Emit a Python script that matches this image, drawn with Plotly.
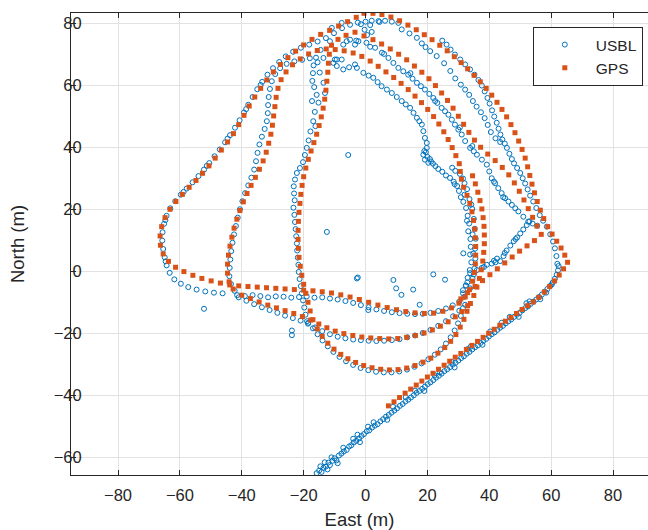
import plotly.graph_objects as go

# ---------------- GPS track (East, North) in metres ----------------
gps_diag = [(7.4,-43.3),(9.2,-42.0),(11.0,-40.6),(12.8,-39.2),(14.6,-37.9),(16.4,-36.6),(18.2,-35.3),(20.0,-34.0),
            (21.8,-32.8),(23.6,-31.5),(25.4,-30.2),(27.2,-28.9),(29.0,-27.6),(30.8,-26.4),(32.6,-25.1),(34.4,-23.8),
            (36.2,-22.5),(38.0,-21.2),(39.8,-19.9),(41.6,-18.6),(43.4,-17.3),(45.2,-16.0),(47.0,-14.8),(48.8,-13.5),
            (50.6,-12.2),(52.4,-11.0),(54.2,-9.8),(56.0,-8.3),(57.8,-6.6),(59.5,-4.8),(61.1,-3.0),(62.6,-1.1),
            (64.0,0.9),(65.3,3.0)]
gps_arc_a = [(64.4,5.3),(63.2,7.6),(61.8,9.8),(60.3,12.1),(58.9,14.5),(57.6,17.1),(56.5,19.8),(55.5,22.6),
             (54.6,25.4),(53.8,28.2),(53.1,31.0),(52.4,33.8),(51.6,36.6),(50.6,39.4),(49.5,42.1),(48.3,44.8),
             (47.0,47.4),(45.6,49.9),(44.1,52.3),(42.5,54.6),(40.8,56.9),(39.0,59.1),(37.1,61.2),(35.1,63.3),
             (33.0,65.4),(30.9,67.4),(28.7,69.3),(26.4,71.2),(24.0,73.0),(21.5,74.8),(19.0,76.4),(16.4,78.0),
             (13.7,79.5),(11.0,80.9),(8.2,82.1),(5.3,82.9),(2.4,83.3),(-0.5,83.3)]
gps_left_outer = [(-3.0,82.0),(-5.8,80.6),(-8.7,79.2),(-11.6,77.8),(-14.5,76.5),(-17.3,74.9),(-20.0,73.1),
                  (-22.6,71.1),(-25.1,69.0),(-27.5,66.8),(-29.8,64.4),(-31.9,61.8),(-33.9,59.1),(-35.8,56.3),
                  (-37.6,53.4),(-39.3,50.4),(-41.0,47.4),(-42.7,44.5),(-44.6,41.8),(-46.6,39.2),(-48.6,36.6),
                  (-50.6,34.1),(-52.7,31.7),(-54.8,29.4),(-57.0,27.2),(-59.2,24.9),(-61.3,22.6),(-63.2,20.1),
                  (-64.8,17.4),(-65.9,14.5),(-66.4,11.5),(-66.3,8.5),(-65.4,5.7),(-63.7,3.3),(-61.4,1.4),
                  (-58.7,0.0),(-55.8,-1.2),(-52.9,-2.2),(-49.9,-3.0),(-46.9,-3.7),(-43.9,-4.3)]
gps_l1 = [(-41.0,-4.6),(-38.0,-4.8),(-35.0,-5.0),(-32.0,-5.2),(-29.0,-5.4),(-26.0,-5.6),(-23.0,-5.8),(-20.0,-6.0),
          (-17.0,-6.2),(-14.0,-6.5),(-11.0,-6.9),(-8.0,-7.5),(-5.0,-8.2),(-2.0,-9.0),(1.0,-9.9),(4.0,-10.8),
          (7.0,-11.6),(10.0,-12.3),(13.0,-12.9),(16.0,-13.3),(19.0,-13.5),(22.0,-13.4),(25.0,-12.8),(27.8,-11.7),
          (30.2,-10.2)]
gps_r1 = [(32.2,-8.2),(33.6,-5.8),(34.6,-3.1),(35.2,-0.3),(35.5,2.5),(35.6,5.3),(35.6,8.1),(35.5,10.9),
          (35.3,13.7),(34.9,16.5),(34.4,19.3),(33.7,22.0),(32.8,24.6),(31.7,27.2),(31.0,29.8),(30.6,32.3)]
gps_arc_c = [(30.3,34.8),(29.2,37.4),(28.0,40.0),(26.7,42.6),(25.3,45.1),(23.7,47.6),(22.0,50.0),(20.1,52.3),
             (18.1,54.5),(16.0,56.6),(13.8,58.7),(11.5,60.7),(9.1,62.6),(6.6,64.4),(4.1,66.2),(1.5,67.9),
             (-1.2,69.4),(-4.0,70.5),(-6.9,71.2),(-9.8,71.6),(-12.7,71.8)]
gps_left_inner = [(-15.6,71.3),(-18.4,70.2),(-21.1,68.6),(-23.6,66.7),(-25.7,64.4),(-27.3,61.9),(-28.3,59.1),
                  (-28.9,56.2),(-29.3,53.2),(-29.7,50.2),(-30.1,47.2),(-30.6,44.3),(-31.3,41.4),(-32.1,38.5),
                  (-33.1,35.7),(-34.3,33.0),(-35.6,30.4),(-37.0,27.8),(-38.3,25.2),(-39.5,22.5),(-40.6,19.7),
                  (-41.6,16.9),(-42.5,14.0),(-43.2,11.1),(-43.8,8.2),(-44.3,5.3),(-44.6,2.4),(-44.6,-0.5),
                  (-44.1,-3.3),(-42.8,-5.6)]
gps_l2 = [(-40.0,-7.6),(-37.2,-8.7),(-34.4,-9.8),(-31.6,-10.8),(-28.8,-11.7),(-26.0,-12.6),(-23.2,-13.5),
          (-20.4,-14.5),(-17.7,-15.6),(-15.1,-16.9),(-12.5,-18.1),(-9.8,-19.2),(-7.0,-20.0),(-4.1,-20.6),
          (-1.2,-21.1),(1.7,-21.4),(4.6,-21.6),(7.5,-21.7),(10.4,-21.6),(13.3,-21.2),(16.1,-20.6),(18.9,-19.8),
          (21.6,-18.8),(24.2,-17.6),(26.7,-16.2),(29.0,-14.6),(31.1,-12.9),(33.0,-11.0)]
gps_mid = [(-6.3,76.2),(-8.9,74.9),(-11.0,73.0),(-11.7,70.1),(-12.0,67.2),(-12.2,64.3),(-12.5,61.4),(-12.8,58.5),
           (-13.2,55.6),(-13.7,52.7),(-14.3,49.9),(-15.0,47.1),(-15.8,44.3),(-16.7,41.6),(-17.6,38.9),(-18.5,36.2),
           (-19.3,33.4),(-20.0,30.6),(-20.5,27.8),(-20.9,24.9),(-21.2,22.0),(-21.5,19.1),(-21.7,16.2),(-21.8,13.3),
           (-21.8,10.4),(-21.7,7.5),(-21.5,4.6),(-21.1,1.7),(-20.6,-1.2),(-20.0,-4.1),(-19.3,-7.0),(-18.6,-9.9),
           (-17.9,-12.7),(-17.0,-15.5)]
gps_bottom_u = [(-15.6,-18.5),(-14.0,-20.9),(-12.2,-23.1),(-10.2,-25.0),(-8.0,-26.7),(-5.7,-28.1),(-3.2,-29.3),
                (-0.6,-30.3),(2.1,-31.0),(4.9,-31.5),(7.7,-31.7),(10.5,-31.6),(13.3,-31.1),(16.0,-30.3),
                (18.6,-29.2),(21.1,-27.9),(23.4,-26.3),(25.6,-24.5),(27.5,-22.5),(29.2,-20.3),(30.6,-17.9),
                (31.8,-15.4),(32.8,-12.8)]
gps_r2 = [(33.9,-10.3),(35.0,-7.7),(36.0,-5.0),(36.8,-2.2),(37.4,0.6),(37.9,3.4),(38.2,6.2),(38.4,9.0),
          (38.4,11.8),(38.3,14.6),(38.0,17.4),(37.6,20.2),(37.0,22.9),(36.3,25.6),(35.5,28.3),(34.6,30.9)]
gps_arc_b = [(-3.4,77.2),(-0.5,76.0),(2.4,74.8),(5.2,73.4),(8.0,71.8),(10.7,70.1),(13.3,68.3),(15.8,66.3),
             (18.2,64.3),(20.5,62.2),(22.6,60.0),(24.6,57.6),(26.5,55.2),(28.3,52.7),(30.0,50.1),(31.7,47.5),
             (33.4,44.9),(35.2,42.4),(37.2,40.1),(39.5,37.9),(41.9,35.8),(44.2,33.6),(46.3,31.2),(48.1,28.6),
             (49.7,25.9),(51.2,23.1),(52.6,20.3),(54.0,17.5),(55.4,14.7),(56.8,12.0)]
gps_link = [(54.6,10.0),(52.2,8.3),(49.8,6.6),(47.4,4.7),(45.0,2.8),(42.6,0.9),(40.2,-1.0),(37.8,-2.9),
            (35.4,-4.8),(33.0,-6.8),(30.8,-8.8)]

# ---------------- USBL fixes (East, North) in metres ----------------
usbl_diag = [(-15.8,-65.0),(-15.0,-64.2),(-14.2,-64.6),(-13.6,-63.3),(-12.8,-62.9),(-12.0,-61.6),(-11.5,-62.4),
             (-10.7,-61.0),(-10.0,-60.2),(-9.4,-60.9),(-8.6,-59.3),(-7.8,-58.7),(-7.0,-58.0),(-6.1,-57.5),
             (-5.3,-56.4),(-4.6,-56.0),(-3.8,-55.1),(-3.0,-54.6),(-2.1,-53.8),(-1.3,-53.0),(-0.5,-52.4),
             (0.4,-51.5),(1.2,-51.2),(2.1,-50.3),(3.0,-49.7),(3.9,-49.2),(4.8,-48.3),(5.7,-47.6),(6.6,-46.8),
             (7.5,-46.2),(8.4,-45.5),(9.3,-44.8),(10.2,-44.1),(11.1,-43.3),(12.0,-42.7),(12.9,-41.9),(13.8,-41.3),
             (14.7,-40.6),(15.6,-39.9),(16.5,-39.1),(17.4,-38.5),(18.3,-37.8),(19.2,-37.1),(20.1,-36.3),
             (21.0,-35.7),(21.9,-35.0),(22.8,-34.2),(23.7,-33.6),(24.6,-32.9),(25.5,-32.1),(26.4,-31.5),
             (27.3,-30.8),(28.2,-30.0),(29.1,-29.4),(30.0,-28.7),(30.9,-27.9),(31.8,-27.3),(32.7,-26.5),
             (33.6,-25.9),(34.5,-25.1),(35.4,-24.4),(36.3,-23.8),(37.2,-23.0),(38.1,-22.3),(39.0,-21.7),
             (39.9,-20.9),(40.8,-20.2),(41.7,-19.6),(42.6,-18.8),(43.5,-18.1),(44.4,-17.5),(45.3,-16.7),
             (46.2,-16.0),(47.1,-15.4),(48.0,-14.6),(48.9,-13.9),(49.8,-13.3),(50.7,-12.5),(51.6,-11.8),
             (52.5,-11.2),(53.4,-10.4),(54.3,-9.7),(55.2,-9.0),(56.1,-8.2),(57.0,-7.4),(57.9,-6.5),(58.8,-5.6),
             (59.7,-4.6),(60.5,-3.5),(61.2,-2.3),(61.8,-1.0),(62.2,0.4),(62.4,1.8),
             (-12.3,-63.8),(-14.6,-62.8),(-9.0,-61.8),(-11.0,-59.9),(-4.0,-53.9),(-1.8,-55.0),(0.8,-50.0),
             (7.0,-47.8),(13.0,-40.5),(19.0,-38.5),(24.0,-32.5),(28.8,-30.9),(33.0,-25.0),(37.8,-23.6),
             (44.0,-16.5),(49.5,-14.6),(52.0,-10.2),(56.5,-8.9),(58.4,-6.8),(60.2,-4.2),
             (-13.2,-61.5),(-7.2,-56.8),(-2.6,-52.6),(2.6,-48.6),(8.9,-43.6),(16.0,-38.4),(22.3,-33.4),
             (27.8,-29.1),(34.0,-24.2),(40.3,-19.3),(46.6,-14.6),(53.0,-9.6)]
usbl_arc_outer = [(62.0,2.5),(61.7,5.0),(61.2,7.5),(60.6,9.7),(59.7,12.0),(58.6,14.5),(57.4,16.4),(56.3,18.2),
                  (55.2,20.5),(54.2,22.6),(53.2,24.5),(52.4,26.5),(51.6,28.4),(50.8,30.1),(50.0,31.8),(49.0,33.4),
                  (48.0,34.9),(47.3,36.3),(46.5,38.0),(45.7,39.9),(45.0,41.3),(44.2,42.6),(43.6,44.2),(43.0,46.1),
                  (42.4,48.0),(41.6,50.0),(40.9,52.0),(40.1,54.2),(39.4,56.0),(38.5,58.1),(37.6,60.0),(36.5,61.8),
                  (35.2,63.5),(33.8,65.2),(32.2,66.8),(30.6,68.4),(28.9,70.0),(27.5,71.6),(26.2,73.2),(24.8,74.5)]
usbl_arc_top = [(23.0,69.5),(20.9,71.1),(19.4,72.4),(18.2,73.6),(16.6,75.4),(14.2,76.8),(11.7,78.1),(10.6,80.2),
                (8.5,80.6),(6.3,80.9),(4.2,80.8),(2.0,80.9),(0.0,80.6),(-1.5,79.8),(25.4,67.2),(27.4,64.7),
                (29.0,62.3),(30.8,60.3),(32.2,58.7),(33.5,57.0),(34.7,55.0),(35.9,53.2),(37.3,51.4),(38.5,49.5),
                (39.5,47.3),(40.5,45.0),(42.0,43.0),(43.5,41.8)]
usbl_left_outer = [(-2.5,80.3),(-5.0,79.6),(-7.6,78.5),(-10.2,76.9),(-12.8,75.3),(-15.5,74.2),(-18.2,73.2),
                   (-20.9,72.2),(-23.4,70.9),(-25.8,69.4),(-27.9,67.6),(-29.9,65.6),(-31.7,63.5),(-33.4,61.2),
                   (-35.0,58.8),(-36.5,56.3),(-37.9,53.8),(-39.3,51.3),(-40.7,48.8),(-42.2,46.4),(-43.8,44.0),
                   (-45.4,41.7),(-47.1,39.4),(-48.8,37.2),(-50.5,35.0),(-52.2,32.9),(-54.0,30.8),(-55.9,28.8),
                   (-57.8,26.8),(-59.7,24.8),(-61.5,22.7),(-63.1,20.4),(-64.3,18.0),(-65.1,15.4),(-65.6,12.7),
                   (-65.7,10.0),(-65.4,7.3),(-64.9,4.6),(-64.3,2.0),(-63.3,-0.4),(-61.8,-2.5),(-59.7,-3.9),
                   (-57.3,-5.0),(-54.6,-5.8),(-51.8,-6.4),(-49.0,-6.8),(-46.2,-7.0),
                   (-33.9,60.2),(-38.6,52.4),(-44.6,42.9),(-51.3,34.1),(-58.8,25.7),(-64.7,16.6),(-64.6,3.3)]
usbl_left_inner = [(-18.0,68.8),(-20.5,68.3),(-23.0,67.8),(-25.5,67.0),(-27.6,65.6),(-29.2,63.7),(-30.3,61.4),
                   (-30.9,58.9),(-31.3,56.3),(-31.5,53.7),(-31.6,51.1),(-31.9,48.5),(-32.6,46.0),(-33.5,43.5),
                   (-34.3,41.0),(-34.9,38.3),(-35.4,35.6),(-36.0,32.9),(-36.9,30.3),(-37.9,27.8),(-38.9,25.3),
                   (-39.8,22.7),(-40.6,20.1),(-41.3,17.4),(-41.9,14.7),(-42.5,12.0),(-43.0,9.3),(-43.4,6.6),
                   (-43.7,3.9),(-43.9,1.2),(-44.0,-1.5),(-43.5,-4.0),(-42.3,-6.2)]
usbl_l1 = [(-41.5,-7.6),(-39.0,-7.9),(-36.5,-7.6),(-34.0,-7.9),(-31.5,-8.3),(-29.0,-8.0),(-26.5,-8.1),
           (-24.0,-8.4),(-21.5,-8.2),(-19.0,-8.0),(-16.5,-8.4),(-14.0,-8.3),(-11.5,-8.7),(-9.0,-9.0),(-6.5,-9.5),
           (-4.0,-10.1),(-1.5,-10.8),(1.0,-11.5),(3.5,-12.2),(6.0,-12.7),(8.5,-13.1),(11.0,-13.4),(13.5,-13.6),
           (16.0,-13.7),(18.5,-13.6),(21.0,-13.3),(23.5,-12.7),(26.0,-11.9),(28.2,-10.9),(30.3,-9.7),(32.0,-8.1)]
usbl_l2 = [(-41.0,-8.3),(-38.5,-9.4),(-36.0,-10.5),(-33.5,-11.5),(-31.0,-12.4),(-28.5,-13.3),(-26.0,-14.2),
           (-23.5,-15.0),(-21.0,-15.8),(-18.6,-16.8),(-16.3,-18.0),(-14.0,-19.2),(-11.5,-20.2),(-9.0,-21.0),
           (-6.5,-21.5),(-4.0,-21.9),(-1.5,-22.1),(1.0,-22.3),(3.5,-22.4),(6.0,-22.3),(8.5,-22.1),(11.0,-21.8),
           (13.5,-21.2),(16.0,-20.6),(18.5,-19.8),(21.0,-18.8),(23.5,-17.5),(26.0,-16.0),(28.3,-14.4),
           (30.3,-12.6),(32.2,-10.7)]
usbl_bottom_u = [(-18.5,-16.5),(-17.0,-18.3),(-15.5,-20.2),(-13.9,-22.2),(-12.2,-24.1),(-10.4,-25.9),(-8.4,-27.5),
                 (-6.3,-28.9),(-4.0,-30.1),(-1.6,-31.1),(0.9,-31.8),(3.4,-32.3),(5.9,-32.5),(8.4,-32.5),
                 (10.9,-32.2),(13.4,-31.6),(15.8,-30.7),(18.1,-29.6),(20.3,-28.3),(22.4,-26.8),(24.3,-25.1),
                 (26.0,-23.2),(27.5,-21.2),(28.8,-19.0),(29.9,-16.7),(30.8,-14.3),(31.5,-11.8)]
usbl_mid = [(-14.5,71.5),(-16.0,69.0),(-16.8,66.5),(-17.0,64.0),(-17.2,61.5),(-16.6,59.5),(-15.8,57.0),
            (-15.2,54.5),(-17.3,55.0),(-16.4,51.5),(-16.9,48.5),(-16.2,46.9),(-17.8,45.2),(-18.4,42.3),
            (-19.0,39.9),(-19.6,37.6),(-20.2,35.3),(-21.2,33.4),(-22.2,31.8),(-22.8,29.7),(-23.2,27.5),
            (-23.1,25.2),(-22.9,23.0),(-23.3,20.6),(-23.0,18.3),(-22.8,16.0),(-22.6,13.7),(-22.4,11.4),
            (-22.2,9.1),(-22.1,6.8),(-21.9,4.5),(-21.7,2.2),(-21.6,-0.1),(-21.3,-2.4),(-20.9,-4.7),(-20.6,-7.0),
            (-20.2,-9.3),(-19.8,-11.6),(-19.4,-13.9),(-18.9,-16.0),(-13.6,60.9),(-13.1,57.6),(-14.8,64.2),
            (-15.5,67.5)]
usbl_arc_mid = [(-3.0,74.5),(0.3,73.8),(3.1,72.2),(5.3,70.6),(7.4,68.9),(9.0,67.3),(10.6,65.7),(12.2,64.6),
                (13.8,63.5),(15.2,62.2),(16.6,60.9),(17.9,59.8),(19.2,58.7),(20.6,57.3),(21.9,56.0),(23.2,54.4),
                (24.6,52.8),(25.7,51.7),(26.8,50.6),(27.9,49.0),(28.9,47.4),(30.0,45.8),(31.1,44.2),(32.2,42.1),
                (33.8,39.9),(35.0,38.8),(36.0,37.7),(37.6,36.1),(39.2,34.5),(40.0,32.3),(40.8,30.1),(41.9,28.5),
                (42.9,26.9),(44.0,25.3),(45.1,23.7),(46.2,22.6),(47.3,21.5),(48.4,20.4),(49.4,19.4),(51.0,17.7),
                (52.6,16.1),(54.0,15.5),(55.5,14.8),(14.5,64.0),(22.5,55.0),(30.5,46.5),(34.5,40.5),(44.5,24.0),
                (41.5,29.0),(6.0,70.2),(1.5,72.5)]
usbl_arc_inner = [(-10.4,67.3),(-9.3,66.3),(-7.2,65.2),(-5.3,65.9),(-3.4,66.8),(-2.8,65.7),(-0.7,64.1),(1.0,63.2),
                  (2.5,62.5),(3.9,61.1),(5.2,59.8),(6.9,58.7),(8.5,57.6),(10.1,56.3),(11.7,55.0),(13.0,53.9),
                  (14.4,52.8),(15.5,51.2),(16.6,49.6),(17.4,48.5),(18.2,47.4),(18.7,45.3),(19.2,43.1),(19.8,41.5),
                  (19.8,39.9),(18.7,37.7),(19.2,36.1),(20.3,35.1),(19.5,38.5),(20.0,37.0),(20.8,36.3),(21.2,35.5),
                  (19.0,38.9),(21.8,34.8),(22.6,34.0),(23.5,33.1),(24.8,32.2),(26.0,31.0),(27.3,30.2),(28.5,29.0),
                  (29.6,27.6),(28.0,33.5),(29.0,32.5),(30.5,31.5),(31.5,30.0),(32.0,28.5),(28.8,28.2)]
usbl_right_col = [(30.2,26.0),(30.8,24.0),(31.6,22.5),(32.5,20.5),(33.0,18.0),(33.5,15.5),(33.2,13.0),(33.9,10.5),
                  (34.0,8.0),(33.8,5.5),(34.2,3.0),(33.7,0.5),(33.0,-2.0),(32.4,-4.5),(31.5,-7.0),(32.8,26.6),
                  (33.6,23.4),(34.5,20.2),(35.0,17.0),(35.3,13.8),(35.6,10.6),(35.4,7.4),(35.5,4.2),(35.2,1.0),
                  (34.6,-2.2),(33.8,-5.4),(32.0,24.8),(34.2,21.6),(34.6,12.0),(32.8,16.4),(34.8,5.8),(32.9,-3.5)]
usbl_link = [(31.5,-6.0),(32.5,-4.5),(33.8,-0.5),(35.0,-0.9),(36.0,0.5),(37.6,1.2),(39.2,2.2),(40.8,2.6),
             (42.0,3.0),(43.5,3.4),(44.6,5.0),(45.6,6.8),(46.8,8.4),(47.9,9.8),(49.0,11.0),(50.0,12.3),(51.0,13.6),
             (52.1,15.0),(53.0,16.2),(48.5,10.5),(45.0,6.0),(42.5,4.2),(38.3,1.5),(41.5,3.5)]
usbl_top_extra = [(-10.9,78.6),(-7.7,80.2),(-2.3,74.3),(-5.0,74.8),(-7.2,73.2),(-11.5,74.3),(-13.6,68.9),
                  (-9.3,68.4),(-7.7,68.4),(-6.1,74.3),(-3.4,73.2),(-9.9,68.4),(-0.3,78.0),(1.5,79.5),(4.5,80.5),
                  (2.0,77.3),(0.5,76.3)]
usbl_outliers = [(-5.6,37.6),(-12.5,12.8),(-2.5,-1.9),(9.0,-2.7),(9.9,-5.4),(11.6,-7.5),(15.4,-5.8),(21.9,-0.9),
                 (25.7,-2.6),(17.5,-10.7),(0.9,-12.4),(-2.8,-2.2),(31.6,5.9),(-52.2,-12.0),(-23.8,-19.0),
                 (-23.8,-20.5)]

gps_segments = [gps_diag, gps_arc_a, gps_left_outer, gps_l1, gps_r1, gps_arc_c, gps_left_inner,
                gps_l2, gps_mid, gps_bottom_u, gps_r2, gps_arc_b, gps_link]
usbl_segments = [usbl_diag, usbl_arc_outer, usbl_arc_top, usbl_left_outer, usbl_left_inner, usbl_l1, usbl_l2,
                 usbl_bottom_u, usbl_mid, usbl_arc_mid, usbl_arc_inner, usbl_right_col, usbl_link,
                 usbl_top_extra, usbl_outliers]

x_ticks = [-80, -60, -40, -20, 0, 20, 40, 60, 80]
y_ticks = [-60, -40, -20, 0, 20, 40, 60, 80]

gx = [p[0] for s in gps_segments for p in s]
gy = [p[1] for s in gps_segments for p in s]
ux = [p[0] for s in usbl_segments for p in s]
uy = [p[1] for s in usbl_segments for p in s]

AX = "#262626"
FONT = "Liberation Sans, Arial, Helvetica, sans-serif"

fig = go.Figure()
fig.add_trace(go.Scatter(x=ux, y=uy, mode="markers", name="USBL",
                         marker=dict(symbol="circle-open", size=5, color="#0072BD", line=dict(width=1))))
fig.add_trace(go.Scatter(x=gx, y=gy, mode="markers", name="GPS",
                         marker=dict(symbol="square", size=5, color="#D95319", line=dict(width=0))))

axis_common = dict(showline=True, linecolor=AX, linewidth=1, ticks="inside", ticklen=5, tickcolor=AX,
                   tickwidth=1, showgrid=True, gridcolor="#e2e2e2", gridwidth=1, zeroline=False,
                   automargin=False, tickfont=dict(family=FONT, size=16.5, color=AX))
fig.update_layout(
    width=648, height=530,
    margin=dict(l=71, r=0, t=13, b=55),
    paper_bgcolor="white", plot_bgcolor="white",
    font=dict(family=FONT, color=AX),
    xaxis=dict(range=[-95.2, 91.3], tickvals=x_ticks, mirror="ticks", ticklabelstandoff=5,
               title=dict(text="East (m)", font=dict(family=FONT, size=18.5, color=AX), standoff=17),
               **axis_common),
    yaxis=dict(range=[-65.6, 83.4], tickvals=y_ticks, mirror=False, ticklabelstandoff=-15,
               title=dict(text="North (m)", font=dict(family=FONT, size=18.5, color=AX), standoff=24),
               **axis_common),
    legend=dict(x=0.991, y=0.9697, xanchor="right", yanchor="top", bgcolor="white",
                bordercolor=AX, borderwidth=1, font=dict(family=FONT, size=15.5, color=AX),
                itemwidth=52),
    showlegend=True,
)
fig.write_html("out.html", config={"displayModeBar": False},
               post_script="document.body.style.margin='0px';"
                           "document.documentElement.style.overflow='hidden';"
                           "document.body.style.overflow='hidden';")
